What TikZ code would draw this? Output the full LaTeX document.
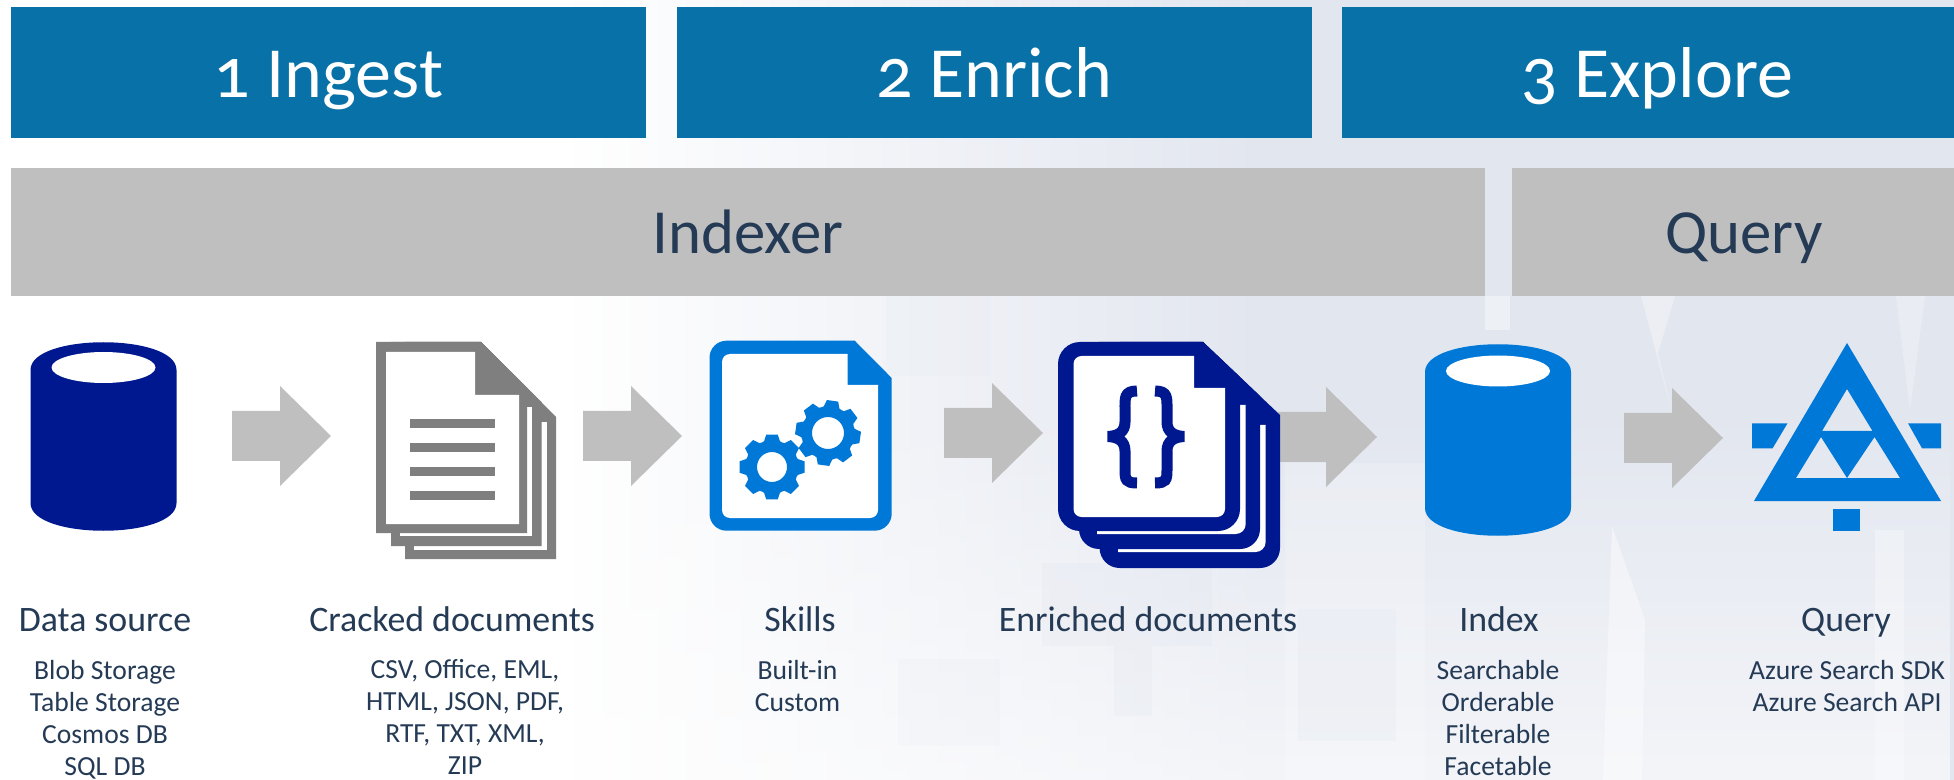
\documentclass[tikz,border=0pt]{standalone}
\usepackage{fontspec}
\setmainfont[Numbers=OldStyle]{Carlito}
\usetikzlibrary{calc,fadings}

\definecolor{bannerblue}{HTML}{0872A8}
\definecolor{bargray}{HTML}{BFBFBF}
\definecolor{inkslate}{HTML}{243A55}
\definecolor{docgray}{HTML}{7F7F7F}
\definecolor{navyblue}{HTML}{00188F}
\definecolor{azureblue}{HTML}{0078D7}
\definecolor{bgpale}{HTML}{E2E6EF}

\begin{document}
\begin{tikzpicture}[x=0.5pt,y=-0.5pt]
	\tikzstyle{bannerbox}=[fill=bannerblue,text=white,inner sep=0pt,font=\fontsize{36}{40}\selectfont,minimum height=65.5pt,text height=25pt,text depth=0pt]
	\tikzstyle{barbox}=[fill=bargray,text=inkslate,inner sep=0pt,font=\fontsize{31.4}{36}\selectfont,minimum height=64pt,text height=22pt,text depth=0pt]
	\tikzstyle{headlabel}=[anchor=base,inner sep=0pt,text=inkslate,font=\fontsize{17.9}{20}\selectfont]
	\tikzstyle{listlabel}=[anchor=north,inner sep=0pt,align=center,text=inkslate,font=\fontsize{13.8}{16}\selectfont]
	\useasboundingbox (0,0) rectangle (1954,780);
	\clip (0,0) rectangle (1954,780);

	% Background wash and its pale facets
	\fill[white] (0,0) rectangle (1954,780);
	\shade[left color=white,right color=bgpale] (560,0) rectangle (1260,780);
	\fill[bgpale] (1260,0) rectangle (1954,780);
	\fill[white,path fading=north,fill opacity=0.6] (0,400) rectangle (1954,780);
	\fill[white,opacity=0.2] (1285,463) rectangle (1425,780);
	\fill[white,opacity=0.35] (1641,296) -- (1675,296) -- (1658,353) -- (1671,409) -- cycle;
	\fill[white,opacity=0.4] (1612,526) -- (1645,620) -- (1642,780) -- (1603,780) -- cycle;
	\fill[white,opacity=0.3] (1875,530) -- (1904,530) -- (1904,780) -- (1875,780) -- cycle;
	\fill[white,opacity=0.25] (1896,296) -- (1925,296) -- (1910,410) -- cycle;
	\fill[white,opacity=0.4] (1485,296) rectangle (1510,330);
	\fill[bgpale,opacity=0.25] (1298,609) rectangle (1396,741);
	\fill[bgpale,opacity=0.25] (1042,563) rectangle (1212,646);
	\fill[bgpale,opacity=0.25] (1114,646) rectangle (1152,716);
	\fill[bgpale,opacity=0.15] (898,659) rectangle (1000,746);
	\fill[bgpale,opacity=0.15] (886,296) rectangle (991,376);

	% Banners along the top
	\node[bannerbox,minimum width=317.5pt] (ingest) at (328.5,72.5) {1 Ingest};
	\node[bannerbox,minimum width=317.25pt] (enrich) at (994.25,72.5) {2 Enrich};
	\node[bannerbox,minimum width=316pt] (explore) at (1657.5,72.5) {3 Explore};
	\node[barbox,minimum width=736.75pt] (indexer) at (747.75,232) {Indexer};
	\node[barbox,minimum width=232pt] (query) at (1744,232) {Query};

	% Block arrows between the icons
	\foreach \ax/\ay in {232/436,583/436,944/433,1278/437,1624/438} {
		\fill[bargray] (\ax,\ay-25) -- (\ax+48,\ay-25) -- (\ax+48,\ay-50) -- (\ax+99,\ay) -- (\ax+48,\ay+50) -- (\ax+48,\ay+25) -- (\ax,\ay+25) -- cycle;
	}

	% Cylinders
	\foreach \cx/\ctop/\cbot/\hy/\ccol in {103.5/370/503/367.5/navyblue,1498/372/508/371/azureblue} {
		\fill[\ccol] (\cx-73,\ctop) .. controls (\cx-73,\ctop-37) and (\cx+73,\ctop-37) .. (\cx+73,\ctop) -- (\cx+73,\cbot) .. controls (\cx+73,\cbot+37) and (\cx-73,\cbot+37) .. (\cx-73,\cbot) -- cycle;
		\fill[white] (\cx,\hy) ellipse [x radius=52,y radius=15.5];
	}

	% Gray document stack
	\foreach \pl/\pr/\pd/\pb/\sl/\sr/\st/\sb in {405/556/417/559/414/546.5/422/550,391/541.5/402/546/400/532/407/536} {
		\fill[docgray] (481,342) -- (\pr,\pd) -- (\pr,\pb) -- (\pl,\pb) -- (\pl,342) -- cycle;
		\fill[white] (\sr,\st) -- (\sr,\sb) -- (\sl,\sb) -- (\sl,\st) -- cycle;
	}
	\fill[docgray] (481,342) -- (527,388) -- (527,533) -- (376,533) -- (376,342) -- cycle;
	\fill[white] (386,352) -- (475,352) -- (475,395) -- (519,395) -- (519,524) -- (386,524) -- cycle;
	\foreach \ly in {423.5,447.5,471.5,495} {
		\fill[docgray] (410,\ly-4.5) rectangle (495,\ly+4.5);
	}

	% Skills document and its gears
	\fill[azureblue] (780,340.7) [sharp corners] -- (854.7,340.7) -- (891.7,378) -- (891.7,400) [rounded corners=8.5pt] -- (891.7,530.7) -- (709.5,530.7) -- (709.5,340.7) -- cycle;
	\fill[white] (780,354) [sharp corners] -- (847.5,354) -- (847.5,385) -- (878,385) -- (878,400) [rounded corners=4pt] -- (878,518) -- (722,518) -- (722,354) -- cycle;
	\foreach \gx/\gy/\gh/\groff in {828/433/16/8,772/467/15/0} {
		\fill[azureblue,even odd rule,shift={(\gx,\gy)}] (\groff-17:27) \foreach \ga in {0,45,...,315} {
			-- (\ga+\groff-17:27) -- (\ga+\groff-10:33) -- (\ga+\groff+10:33) -- (\ga+\groff+17:27) -- (\ga+\groff+22.5:26.5)
		} -- cycle (0,0) circle (\gh);
	}

	% Enriched document stack
	\foreach \pl/\pr/\pd/\pb/\sl/\sr/\st/\sb in {1099.6/1280/415/568/1118/1265.6/425/552,1079/1260/396/549/1097/1245.7/405/534} {
		\fill[navyblue] (1203,342) [sharp corners] -- (\pr,\pd) -- (\pr,\pd+10) [rounded corners=10pt] -- (\pr,\pb) -- (\pl,\pb) -- (\pl,342) [sharp corners] -- cycle;
		\fill[white] (\sr,\st) [rounded corners=5pt] -- (\sr,\sb) [sharp corners] -- (\sl,\sb) -- (\sl,\st) -- cycle;
	}
	\fill[navyblue] (1130,342) [sharp corners] -- (1203,342) -- (1240,377) -- (1240,390) [rounded corners=11pt] -- (1240,531) -- (1058,531) -- (1058,342) -- cycle;
	\fill[white] (1130,356) [sharp corners] -- (1194,356) -- (1194,388) -- (1225,388) -- (1225,400) [rounded corners=4pt] -- (1225,517) -- (1073.5,517) -- (1073.5,356) -- cycle;
	\foreach \bs in {1,-1} {
		\draw[navyblue,line width=5.5pt,shift={(1146,0)},xscale=\bs] (-9,391) .. controls (-22,391) and (-21,398) .. (-21,410) -- (-21,422) .. controls (-21,432) and (-28,436) .. (-38,436.5) .. controls (-28,437) and (-21,441) .. (-21,451) -- (-21,470) .. controls (-21,480) and (-20,483) .. (-9,483);
	}

	% Query triangle mark
	\fill[azureblue,even odd rule] (1847,343) -- (1941,501) -- (1754,501) -- cycle
		(1847,389) -- (1872.5,431) -- (1822,431) -- cycle
		(1821,437) -- (1847,478) -- (1796,478) -- cycle
		(1874.5,437) -- (1900,478) -- (1847,478) -- cycle;
	\fill[azureblue] (1752,423.3) -- (1787.5,423.3) -- (1772.6,448.3) -- (1752,448.3) -- cycle;
	\fill[azureblue] (1941,423.3) -- (1908,423.3) -- (1922,448.3) -- (1941,448.3) -- cycle;
	\fill[azureblue] (1833,509) rectangle (1860,531);

	% Captions under the icons
	\node[headlabel] (sourcehead) at (105,631) {Data source};
	\node[headlabel] (crackedhead) at (452,631) {Cracked documents};
	\node[headlabel] (skillshead) at (800,631) {Skills};
	\node[headlabel] (enrichedhead) at (1148,631) {Enriched documents};
	\node[headlabel] (indexhead) at (1499,631) {Index};
	\node[headlabel] (queryhead) at (1846,631) {Query};

	\node[listlabel] (sourcelist) at (105,659.5) {Blob Storage\\Table Storage\\Cosmos DB\\SQL DB};
	\node[listlabel] (crackedlist) at (465,659.5) {CSV, Office, EML,\\HTML, JSON, PDF,\\RTF, TXT, XML,\\ZIP};
	\node[listlabel] (skillslist) at (797.5,659.5) {Built-in\\Custom};
	\node[listlabel] (indexlist) at (1498,659.5) {Searchable\\Orderable\\Filterable\\Facetable};
	\node[listlabel] (querylist) at (1847,659.5) {Azure Search SDK\\Azure Search API};
\end{tikzpicture}
\end{document}
